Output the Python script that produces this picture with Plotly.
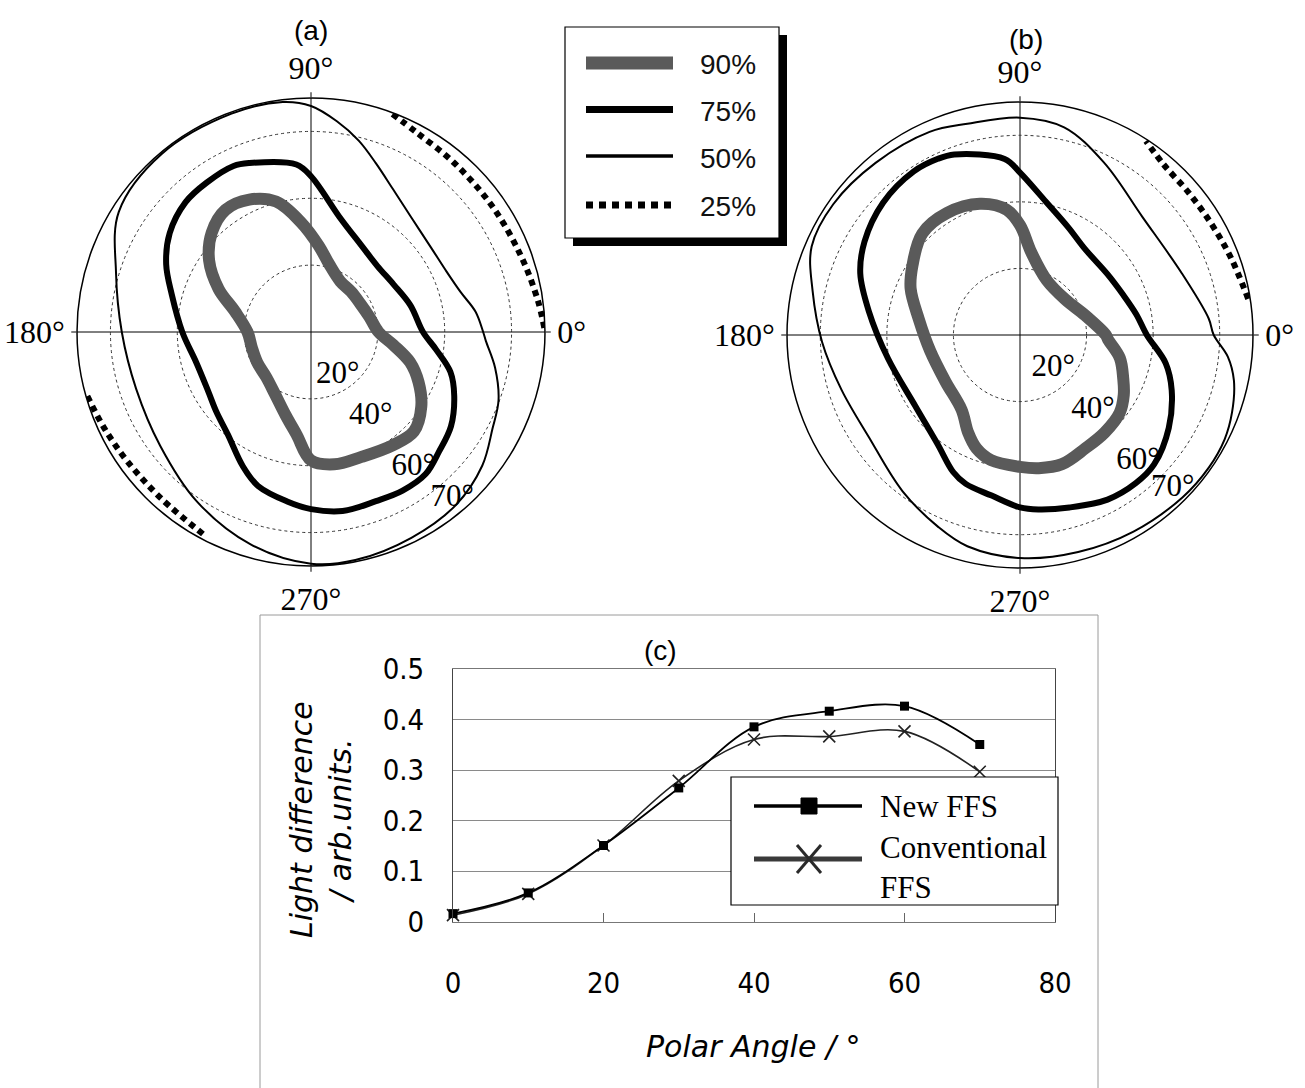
import plotly.graph_objects as go

W, H = 1305, 1088


def px(x):
    return x / W


def py(y):
    return 1 - y / H


# ---------------- contour data: azimuth (deg) -> polar angle (deg) ----------------
LEVELS = ["90%", "75%", "50%", "25%"]

# panel (a)
A90_THETA = [0, 15, 30, 45, 60, 75, 85, 95, 105, 115, 125, 135, 145, 155, 165, 180,
             195, 210, 225, 240, 253, 262, 270, 280, 292, 306, 316, 326, 335, 343, 351]
A90_R = [20.2, 18, 17, 17, 17.5, 21, 26, 32.8, 40.4, 43.7, 44.6, 42, 37.2, 30.5, 23.5, 19,
         18.3, 18.5, 19, 21.5, 26, 31, 38.4, 40.2, 40.3, 41.8, 42.8, 39.8, 35.5, 31, 25]

A75_THETA = [0, 15, 30, 45, 60, 76, 90, 95, 110, 115, 125, 134, 145, 155, 165, 180,
             195, 210, 220, 231, 243, 251, 262, 270, 280, 291, 300, 309, 317, 326, 336, 344, 352]
A75_R = [33.5, 30.8, 28.5, 28, 30, 35.4, 46.6, 50.3, 53.8, 54.8, 54.5, 54, 51.6, 47.8, 43.1, 38.5,
         35.5, 35.5, 37, 39.5, 45, 48.7, 51.2, 53, 54.4, 54.2, 54.8, 54.6, 52.4, 50.5, 46.9, 43.4, 37.8]

A50_THETA = [0, 7, 15, 24, 35, 49, 60, 69, 76, 83, 90, 97, 110, 130, 148, 163, 180,
             198, 217, 236, 254, 270, 281, 296, 310, 322, 332, 340, 349, 357]
A50_R = [51.5, 49.6, 46.3, 44.4, 43.9, 45.6, 49.2, 54.1, 59, 63.5, 67.6, 69.3, 69.5, 69.5, 67.8, 61, 56.6,
         55, 56.5, 61.1, 66, 69.3, 69.5, 68.5, 67.5, 65, 61.5, 59.7, 56.1, 52.4]

A25_SEGMENTS = [
    ([1, 8, 20, 35, 50, 62, 70], [69.8, 68.5, 66.8, 66, 66.3, 67.5, 69.8]),
    ([196, 205, 215, 228, 243], [69.6, 68.2, 67.2, 67, 68.8]),
]

# panel (b)
B90_THETA = [0, 17, 38, 64, 82, 90, 96, 107, 121, 134, 147, 157, 171, 190, 212,
             232, 242, 249, 257, 270, 278, 288, 300, 311, 322, 330, 337, 347, 357]
B90_R = [25.8, 20.4, 17.3, 18.3, 24.9, 33, 37.8, 41.2, 42.7, 42.3, 38.5, 35.7, 30.8, 27.4, 26.4,
         28.5, 33.2, 36.5, 38.6, 39.6, 40.4, 40.8, 39.3, 38.8, 38, 36, 33.7, 30.8, 26.5]

B75_THETA = [0, 10, 21, 35, 53, 66, 79, 90, 95, 110, 115, 123, 136, 149, 159, 171, 190,
             214, 233, 244, 250, 260, 270, 276, 286, 298, 308, 316, 328, 340, 349]
B75_R = [38.1, 35.5, 33.3, 32, 32.4, 35.5, 40.8, 48.8, 53.1, 57.7, 58.4, 58.6, 57.2, 54.5, 51.4, 46, 40.3,
         38, 41.1, 45.8, 47.6, 49, 51.8, 52.7, 53.9, 56, 56.5, 56, 52.7, 48.5, 44.6]

B50_THETA = [0, 5, 21, 44, 64, 78, 90, 104, 114, 130, 145, 157, 168, 182, 197, 214,
             233, 247, 256, 270, 285, 300, 315, 325, 333, 340, 348, 354]
B50_R = [58.2, 56.9, 52, 51.1, 57.6, 63.8, 65.3, 65.4, 66.8, 67.5, 68.5, 68, 63.7, 59.5, 56.1, 54.8,
         58.7, 62.7, 65.4, 67, 67.5, 68.2, 69, 69.3, 69, 67.8, 65.7, 62.8]

B25_SEGMENTS = [
    ([9, 20, 30, 40, 50, 57], [69.4, 67.5, 66.5, 66.3, 67, 69.5]),
]

# radial tick labels inside each panel
RADIAL_LABELS = ["20°", "40°", "60°", "70°"]
A_LABEL_R = [15.3, 30.8, 50.8, 65.2]
A_LABEL_T = [301.4, 305.5, 307.0, 310.4]
B_LABEL_R = [14.1, 31.5, 52.0, 64.9]
B_LABEL_T = [315, 314, 313, 315]

AZIMUTH_TICKS = [0, 90, 180, 270]
AZIMUTH_TEXT = ["0°", "90°", "180°", "270°"]

# ---------------- panel (c) data ----------------
POLAR_ANGLE = [0, 10, 20, 30, 40, 50, 60, 70]
NEW_FFS = [0.016, 0.057, 0.151, 0.265, 0.386, 0.417, 0.427, 0.351]
CONV_FFS = [0.013, 0.055, 0.151, 0.279, 0.361, 0.367, 0.377, 0.297]
X_TICKS = [0, 20, 40, 60, 80]
Y_TICKS = [0, 0.1, 0.2, 0.3, 0.4, 0.5]
Y_TICK_TEXT = ["0", "0.1", "0.2", "0.3", "0.4", "0.5"]

STYLE = {
    "90%": dict(color="#5a5a5a", width=12, dash="solid", key_width=13),
    "75%": dict(color="black", width=6, dash="solid", key_width=7),
    "50%": dict(color="black", width=2, dash="solid", key_width=3.5),
    "25%": dict(color="black", width=6, dash="6px,5px", key_width=7),
}

SERIF = "Liberation Serif, Times New Roman, serif"
SANS = "Liberation Sans, Arial, sans-serif"
NARROW = "DejaVu Sans Condensed, Liberation Sans Narrow, Liberation Sans, sans-serif"

fig = go.Figure()


def closed(theta, r):
    return list(theta) + [theta[0] + 360], list(r) + [r[0]]


def add_panel(subplot, loops, dotted_segments, lab_r, lab_t):
    # radial labels first so contour lines pass over them
    fig.add_trace(go.Scatterpolar(
        r=lab_r, theta=lab_t, text=RADIAL_LABELS, mode="text",
        textfont=dict(family=SERIF, size=31, color="black"),
        subplot=subplot, showlegend=False, hoverinfo="skip", cliponaxis=False))
    for level, (theta, r) in loops:
        st = STYLE[level]
        t, rr = closed(theta, r)
        fig.add_trace(go.Scatterpolar(
            r=rr, theta=t, mode="lines", name=level, subplot=subplot, showlegend=False,
            line=dict(color=st["color"], width=st["width"], dash=st["dash"],
                      shape="spline", smoothing=1.0)))
    st = STYLE["25%"]
    for theta, r in dotted_segments:
        fig.add_trace(go.Scatterpolar(
            r=r, theta=theta, mode="lines", name="25%", subplot=subplot, showlegend=False,
            line=dict(color=st["color"], width=st["width"], dash=st["dash"],
                      shape="spline", smoothing=1.0)))


add_panel("polar", [("50%", (A50_THETA, A50_R)), ("75%", (A75_THETA, A75_R)),
                    ("90%", (A90_THETA, A90_R))], A25_SEGMENTS, A_LABEL_R, A_LABEL_T)
add_panel("polar2", [("50%", (B50_THETA, B50_R)), ("75%", (B75_THETA, B75_R)),
                     ("90%", (B90_THETA, B90_R))], B25_SEGMENTS, B_LABEL_R, B_LABEL_T)

# ---------------- panel (c) traces ----------------
fig.add_trace(go.Scatter(
    x=POLAR_ANGLE, y=CONV_FFS, mode="lines+markers", name="Conventional FFS",
    line=dict(color="#222222", width=1.6, shape="spline", smoothing=1.0),
    marker=dict(symbol="x-thin", size=12, line=dict(color="#222222", width=1.6)),
    xaxis="x", yaxis="y", showlegend=False, cliponaxis=False))
fig.add_trace(go.Scatter(
    x=POLAR_ANGLE, y=NEW_FFS, mode="lines+markers", name="New FFS",
    line=dict(color="black", width=1.8, shape="spline", smoothing=1.0),
    marker=dict(symbol="square", size=9, color="black"),
    xaxis="x", yaxis="y", showlegend=False, cliponaxis=False))


def polar_layout(cx, cy, rad):
    return dict(
        domain=dict(x=[px(cx - rad), px(cx + rad)], y=[py(cy + rad), py(cy - rad)]),
        bgcolor="white",
        radialaxis=dict(range=[0, 70], tickvals=[20, 40, 60], showticklabels=False, ticks="",
                        showline=False, showgrid=True, gridcolor="#333333", gridwidth=1,
                        griddash="dot"),
        angularaxis=dict(rotation=0, direction="counterclockwise",
                         tickvals=AZIMUTH_TICKS, ticktext=AZIMUTH_TEXT,
                         showline=True, linecolor="black", linewidth=1.5,
                         showgrid=True, gridcolor="black", gridwidth=1.2,
                         ticks="outside", ticklen=5, tickcolor="black", tickwidth=1.2,
                         tickfont=dict(family=SERIF, size=32, color="black")),
    )


shapes = []
annotations = []

# outer frame around panel (c)
shapes.append(dict(type="rect", xref="paper", yref="paper",
                   x0=px(260), x1=px(1098), y0=py(1100), y1=py(615),
                   line=dict(color="#9a9a9a", width=1), fillcolor="rgba(0,0,0,0)", layer="below"))

# key box for the contour levels, with drop shadow
shapes.append(dict(type="rect", xref="paper", yref="paper",
                   x0=px(573), x1=px(787), y0=py(246), y1=py(35),
                   line=dict(width=0), fillcolor="black", layer="above"))
shapes.append(dict(type="rect", xref="paper", yref="paper",
                   x0=px(565), x1=px(779), y0=py(238), y1=py(27),
                   line=dict(color="black", width=1.2), fillcolor="white", layer="above"))
key_rows = [63, 109.5, 156, 205]
for level, yrow in zip(LEVELS, key_rows):
    st = STYLE[level]
    dash = "7px,6px" if level == "25%" else "solid"
    shapes.append(dict(type="line", xref="paper", yref="paper",
                       x0=px(586), x1=px(673), y0=py(yrow), y1=py(yrow),
                       line=dict(color=st["color"], width=st["key_width"], dash=dash),
                       layer="above"))
    annotations.append(dict(text=level, xref="paper", yref="paper", x=px(698), y=py(yrow + 2),
                            xanchor="left", yanchor="middle", showarrow=False,
                            font=dict(family=SANS, size=28, color="#111111")))

# key box for panel (c)
shapes.append(dict(type="rect", xref="paper", yref="paper",
                   x0=px(731), x1=px(1058), y0=py(905), y1=py(777),
                   line=dict(color="black", width=1.2), fillcolor="white", layer="above"))
shapes.append(dict(type="line", xref="paper", yref="paper",
                   x0=px(754), x1=px(862), y0=py(806), y1=py(806),
                   line=dict(color="black", width=3.5), layer="above"))
shapes.append(dict(type="rect", xref="paper", yref="paper",
                   x0=px(801), x1=px(817), y0=py(814), y1=py(798),
                   line=dict(color="black", width=1), fillcolor="black", layer="above"))
shapes.append(dict(type="line", xref="paper", yref="paper",
                   x0=px(754), x1=px(862), y0=py(859), y1=py(859),
                   line=dict(color="#3a3a3a", width=5), layer="above"))
for dx0, dy0, dx1, dy1 in [(-12, -14, 12, 14), (-12, 14, 12, -14)]:
    shapes.append(dict(type="line", xref="paper", yref="paper",
                       x0=px(809 + dx0), x1=px(809 + dx1), y0=py(859 + dy0), y1=py(859 + dy1),
                       line=dict(color="#2a2a2a", width=3), layer="above"))
annotations.append(dict(text="New FFS", xref="paper", yref="paper", x=px(878), y=py(806),
                        xanchor="left", yanchor="middle", showarrow=False,
                        font=dict(family=SERIF, size=31, color="black")))
annotations.append(dict(text="Conventional<br>FFS", xref="paper", yref="paper", x=px(878), y=py(867),
                        xanchor="left", yanchor="middle", align="left", showarrow=False,
                        font=dict(family=SERIF, size=31, color="black")))

# panel captions
for text, xx, yy in [("(a)", 311, 31), ("(b)", 1026, 39), ("(c)", 660, 650)]:
    annotations.append(dict(text=text, xref="paper", yref="paper", x=px(xx), y=py(yy),
                            xanchor="center", yanchor="middle", showarrow=False,
                            font=dict(family=SANS, size=28, color="black")))

# axis titles of panel (c)
annotations.append(dict(text="Polar Angle / °", xref="paper", yref="paper", x=px(754), y=py(1046),
                        xanchor="center", yanchor="middle", showarrow=False,
                        font=dict(family="DejaVu Sans, sans-serif", size=30, color="black",
                                  style="italic")))
annotations.append(dict(text="Light difference<br>/ arb.units.", xref="paper", yref="paper",
                        x=px(321), y=py(820), xanchor="center", yanchor="middle",
                        textangle=-90, showarrow=False,
                        font=dict(family="DejaVu Sans, sans-serif", size=30, color="black",
                                  style="italic")))

fig.update_layout(
    width=W, height=H, margin=dict(l=0, r=0, t=0, b=0, pad=0, autoexpand=False),
    paper_bgcolor="white", plot_bgcolor="white", showlegend=False,
    polar=polar_layout(311, 332, 234),
    polar2=polar_layout(1020, 335, 233),
    xaxis=dict(domain=[px(453), px(1055)], range=[0, 80], tickvals=X_TICKS,
               ticks="inside", ticklen=9, tickcolor="#666666", showline=True, linecolor="#777777",
               linewidth=1, mirror=True, showgrid=False, zeroline=False, ticklabelstandoff=35,
               automargin=False,
               tickfont=dict(family=NARROW, size=29, color="black")),
    yaxis=dict(domain=[py(921.7), py(669.3)], range=[0, 0.5], tickvals=Y_TICKS, ticktext=Y_TICK_TEXT,
               ticks="", showline=True, linecolor="#444444", linewidth=1, mirror=True,
               showgrid=True, gridcolor="#8a8a8a", gridwidth=1, zeroline=False, automargin=False,
               ticklabelstandoff=22, tickfont=dict(family=NARROW, size=29, color="black")),
    shapes=shapes, annotations=annotations,
)

fig.write_html("out.html")
